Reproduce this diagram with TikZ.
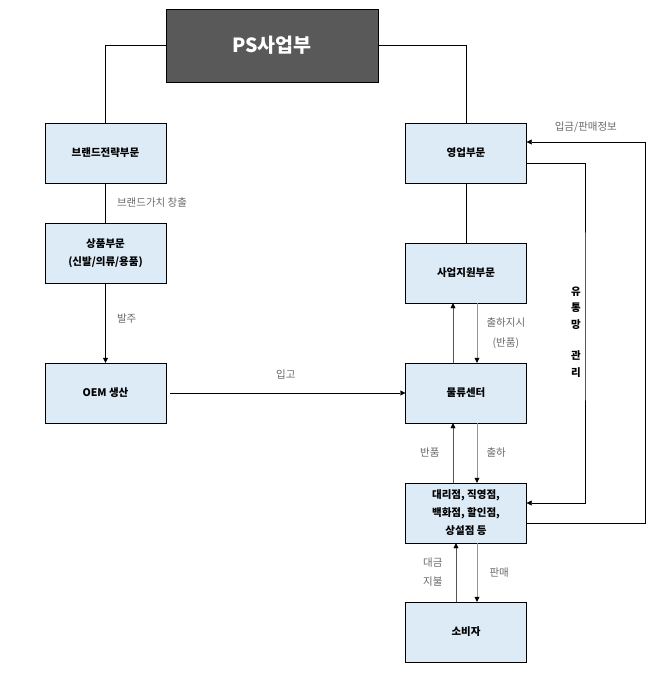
\documentclass[tikz,border=0pt]{standalone}
\usepackage{fontspec}
\setmainfont{Noto Sans CJK KR}
\usetikzlibrary{positioning,arrows.meta,calc}
\definecolor{cHead}{RGB}{89,89,89}
\definecolor{cUnit}{RGB}{221,235,247}
\definecolor{cNote}{RGB}{105,105,105}
\definecolor{cWireDk}{RGB}{85,85,85}
\definecolor{cWireLt}{RGB}{150,150,150}

\begin{document}
\begin{tikzpicture}[x=1pt,y=-1pt,font=\fontsize{10.5}{18}\selectfont,
  unit/.style={draw=black,fill=cUnit,minimum width=121pt,minimum height=60pt,
    align=center,font=\fontsize{10.5}{18}\selectfont\bfseries},
  note/.style={text=cNote,font=\fontsize{10.5}{20}\selectfont},
  flow/.style={-{Triangle[length=5pt,width=5pt,color=black]}}]
 \useasboundingbox (0,0) rectangle (658,690);
 % ---- head ----
 \node[draw=black,fill=cHead,minimum width=212pt,minimum height=73pt,
   text=white,font=\fontsize{19.5}{23}\selectfont\bfseries] (head) at (272,45.5) {PS사업부};
 % ---- left column ----
 \node[unit] (brand) at (105.5,153) {브랜드전략부문};
 \node[unit] (goods) at (105.5,253) {상품부문\\(신발/의류/용품)};
 \node[unit] (oem)   at (105.5,393) {OEM 생산};
 % ---- right column ----
 \node[unit] (sales)   at (466,153) {영업부문};
 \node[unit] (support) at (466,273) {사업지원부문};
 \node[unit] (logi)    at (466,393) {물류센터};
 \node[unit] (shop)    at (466,513) {대리점, 직영점,\\백화점, 할인점,\\상설점 등};
 \node[unit] (cons)    at (466,632) {소비자};
 % ---- links ----
 \draw (head.west) -| (brand.north);
 \draw (head.east) -| (sales.north);
 \draw (brand) -- node[note,right=8pt]{브랜드가치 창출} (goods);
 \draw[flow] (goods) -- node[note,right=8pt,pos=0.45]{발주} (oem);
 \draw[flow,shorten <=4pt] (oem.east) -- node[note,above=10pt]{입고} (logi.west);
 \draw (sales) -- (support);
 % support <-> logistics
 \draw[flow,cWireDk] ([xshift=-13pt]logi.north) -- ([xshift=-13pt]support.south);
 \draw[flow,cWireLt] ([xshift=11pt]support.south) --
   node[note,right=6pt,align=center]{출하지시\\(반품)}
   ([xshift=11pt]logi.north);
 % logistics <-> shops
 \draw[flow,cWireDk] ([xshift=-13pt]shop.north) -- node[note,left=10pt]{반품} ([xshift=-13pt]logi.south);
 \draw[flow,cWireLt] ([xshift=11pt]logi.south) -- node[note,right=6pt]{출하} ([xshift=11pt]shop.north);
 % shops <-> consumers
 \draw[flow,cWireDk] ([xshift=-10pt]cons.north) --
   node[note,left=10pt,align=center,font={\fontsize{10.5}{19}\selectfont}]{대금\\지불}
   ([xshift=-10pt]shop.south);
 \draw[flow,cWireLt] ([xshift=11pt]shop.south) -- node[note,right=9pt]{판매} ([xshift=11pt]cons.north);
 % ---- loops ----
 \coordinate (dist) at (585,300);
 \coordinate (info) at (645,300);
 \draw[flow] ([yshift=-10pt]sales.east) -| (dist) |- ([yshift=10pt]shop.east);
 \node[font=\fontsize{10.5}{16.5}\selectfont\bfseries,align=center,inner sep=0pt] (distlbl)
   at (576,332) {유\\통\\망\\[15pt]관\\리};
 \draw[flow] ([yshift=-10pt]shop.east) -| (info)
   |- node[note,pos=0.75,above=6pt]{입금/판매정보} ([yshift=11pt]sales.east);
\end{tikzpicture}
\end{document}
